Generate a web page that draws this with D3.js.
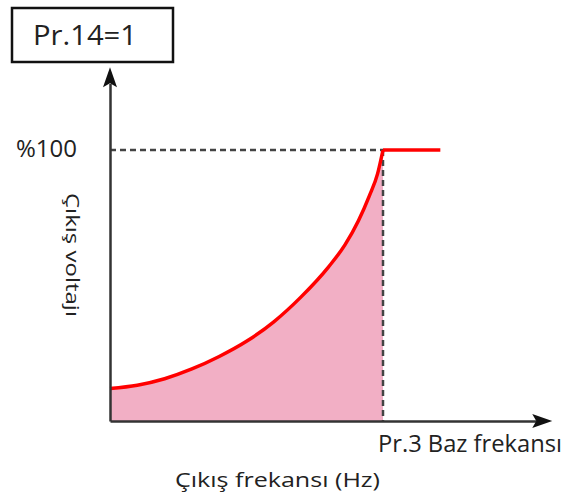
<!DOCTYPE html>
<html>
<head>
<meta charset="utf-8">
<script src="https://cdn.jsdelivr.net/npm/d3@7/dist/d3.min.js"></script>
<style>
html,body{margin:0;padding:0;background:#fff;}
svg{display:block;}
text{font-family:"Open Sans","Noto Sans",sans-serif;fill:#222;}
</style>
</head>
<body>
<svg id="chart" width="570" height="499"></svg>
<script>
// Data (percent of base frequency, percent of output voltage)
const freqPct = [0, 10, 20, 30, 40, 50, 60, 70, 80, 86, 91, 95, 98, 100];
const voltPct = [12, 13.2, 15.6, 19.2, 23.8, 29.4, 36.6, 45.8, 56.8, 64.9, 73.9, 83.1, 91.2, 100];
const flatFreq = [100, 121];
const flatVolt = [100, 100];
const titleText = "Pr.14=1";
const yTickLabel = "%100";
const xTickLabel = "Pr.3 Baz frekansı";
const xAxisTitle = "Çıkış frekansı (Hz)";
const yAxisTitle = "Çıkış voltajı";
const xAxisMax = 162;
const yAxisMax = 130.5;

const svg = d3.select("#chart");
const x = d3.scaleLinear().domain([0, 100]).range([110, 383]);
const y = d3.scaleLinear().domain([0, 100]).range([421, 150]);

const pts = freqPct.map((f, i) => ({f, v: voltPct[i]}));
const flat = flatFreq.map((f, i) => ({f, v: flatVolt[i]}));

// fill area
const area = d3.area().x(d => x(d.f)).y0(y(0)).y1(d => y(d.v)).curve(d3.curveMonotoneX);
svg.append("path").datum(pts).attr("d", area).attr("fill", "#f2afc5");

// dashed reference lines
svg.append("line").attr("x1", x(0)).attr("x2", x(100)).attr("y1", y(100)).attr("y2", y(100))
  .attr("stroke", "#444").attr("stroke-width", 2.5).attr("stroke-dasharray", "6,4");
svg.append("line").attr("x1", x(100)).attr("x2", x(100)).attr("y1", y(100)).attr("y2", y(0))
  .attr("stroke", "#444").attr("stroke-width", 2.5).attr("stroke-dasharray", "6,4");

// curve
const line = d3.line().x(d => x(d.f)).y(d => y(d.v)).curve(d3.curveMonotoneX);
svg.append("path").datum(pts).attr("d", line).attr("fill", "none")
  .attr("stroke", "#ff0000").attr("stroke-width", 3.5);
svg.append("path").datum(flat).attr("d", d3.line().x(d => x(d.f)).y(d => y(d.v))).attr("fill", "none")
  .attr("stroke", "#ff0000").attr("stroke-width", 3.5);

// axes (domain lines only)
const xAxisScale = d3.scaleLinear().domain([0, xAxisMax - 6]).range([x(0), x(xAxisMax - 6)]);
const yAxisScale = d3.scaleLinear().domain([0, yAxisMax - 6]).range([y(0), y(yAxisMax - 6)]);
svg.append("g").attr("transform", `translate(0,${y(0)})`)
  .call(d3.axisBottom(xAxisScale).tickValues([]).tickSizeOuter(0))
  .select(".domain").attr("stroke", "#333").attr("stroke-width", 2.5);
svg.append("g").attr("transform", `translate(${x(0)},0)`)
  .call(d3.axisLeft(yAxisScale).tickValues([]).tickSizeOuter(0))
  .select(".domain").attr("stroke", "#333").attr("stroke-width", 2.5);

// arrowheads
const xt = x(xAxisMax), yt = y(yAxisMax);
svg.append("path").attr("d", `M${xt},${y(0)} L${xt-20},${y(0)-7} L${xt-16},${y(0)} L${xt-20},${y(0)+7} Z`).attr("fill", "#111");
svg.append("path").attr("d", `M${x(0)},${yt} L${x(0)-7},${yt+20} L${x(0)},${yt+16} L${x(0)+7},${yt+20} Z`).attr("fill", "#111");

// title box
svg.append("rect").attr("x", 12).attr("y", 8).attr("width", 161).attr("height", 54)
  .attr("fill", "#fff").attr("stroke", "#111").attr("stroke-width", 2.5);
svg.append("text").attr("x", 33).attr("y", 45).attr("font-size", 28)
  .attr("textLength", 104).attr("lengthAdjust", "spacingAndGlyphs").text(titleText);

// tick labels
svg.append("text").attr("x", 16).attr("y", y(100) + 7).attr("font-size", 23)
  .attr("textLength", 61).attr("lengthAdjust", "spacingAndGlyphs").text(yTickLabel);
svg.append("text").attr("x", 378).attr("y", 452).attr("font-size", 23)
  .attr("textLength", 184).attr("lengthAdjust", "spacingAndGlyphs").text(xTickLabel);

// axis titles
svg.append("text").attr("x", 175).attr("y", 487).attr("font-size", 19.5)
  .attr("textLength", 205).attr("lengthAdjust", "spacingAndGlyphs").text(xAxisTitle);
svg.append("text").attr("transform", "translate(66,193) rotate(90)").attr("font-size", 19)
  .attr("textLength", 124).attr("lengthAdjust", "spacingAndGlyphs").text(yAxisTitle);
</script>
</body>
</html>
